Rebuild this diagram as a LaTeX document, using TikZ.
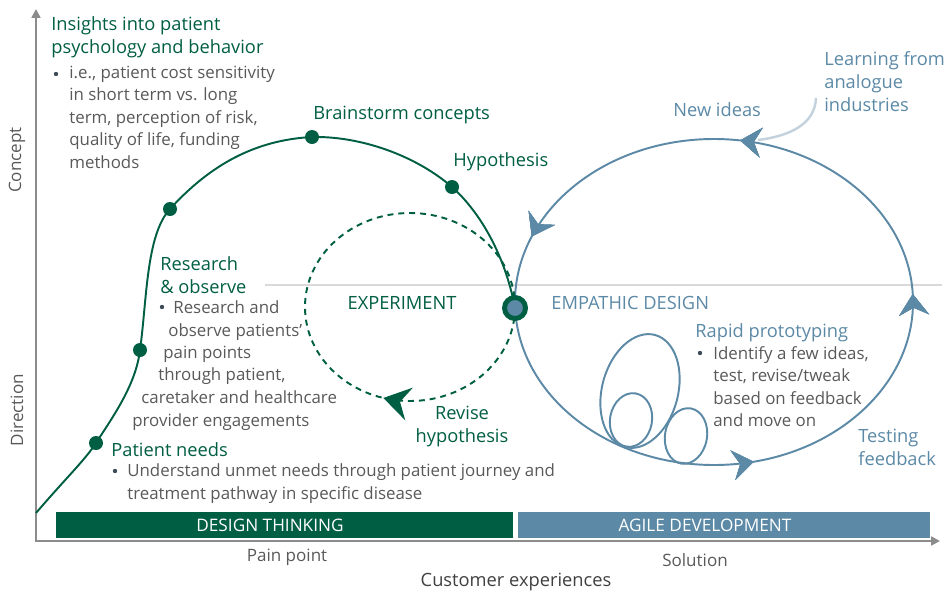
\documentclass[tikz,border=0pt]{standalone}
\usepackage{fontspec}
\setmainfont{Open Sans}
\usetikzlibrary{arrows.meta,decorations.markings}

\definecolor{dtgreen}{HTML}{005E42}
\definecolor{agblue}{HTML}{5B89A6}
\definecolor{bodygray}{HTML}{595959}
\definecolor{axisgray}{HTML}{8C8C8C}
\definecolor{rulegray}{HTML}{D9D9D9}
\definecolor{dotgray}{HTML}{3E4C5A}
\definecolor{hintblue}{HTML}{C3D2DC}
\definecolor{captiongray}{HTML}{404040}

\tikzset{
  txt/.style={inner sep=0pt, anchor=base west},
  body/.style={txt, text=bodygray, align=left, font=\fontsize{9.6}{12.75}\selectfont},
  greenlbl/.style={txt, text=dtgreen, align=left, font=\fontsize{10.4}{13}\selectfont},
  bluelbl/.style={txt, text=agblue, align=left, font=\fontsize{10.4}{13}\selectfont},
  barlbl/.style={inner sep=0pt, text=white, font=\fontsize{9.8}{11}\selectfont},
  axislbl/.style={inner sep=0pt, text=bodygray, font=\fontsize{9.7}{11}\selectfont},
  milestone/.style={fill=dtgreen},
  bulletdot/.style={fill=dotgray},
  midarrow/.style n args={3}{postaction={solid, decorate}, decoration={markings,
      mark=at position #1 with {\arrow{Stealth[length=#2,width=#3,inset=0.35*#2]}}}}
}

\begin{document}
\begin{tikzpicture}[x=0.02cm, y=-0.02cm]
  \useasboundingbox (0,0) rectangle (950,592);

  %%%%% AXES %%%%%
  \draw[rulegray, line width=1.1pt] (265,285) -- (942,285);
  \draw[axisgray, line width=1.4pt, {Triangle[length=5pt,width=5pt]}-{Triangle[length=5pt,width=5pt]}]
    (36,9) -- (36,541) -- (940,541);
  \node[axislbl, rotate=90] (concept) at (17,160) {Concept};
  \node[axislbl, rotate=90] (direction) at (17,410) {Direction};

  %%%%% BARS %%%%%
  \fill[dtgreen] (56,512) rectangle (513,538);
  \fill[agblue] (518,512) rectangle (930,538);
  \node[barlbl] (dt) at (270,525.5) {DESIGN THINKING};
  \node[barlbl] (agile) at (705,525.5) {AGILE DEVELOPMENT};
  \node[axislbl] (pain) at (287,557) {Pain point};
  \node[axislbl] (sol) at (695,560) {Solution};
  \node[axislbl, text=captiongray, font=\fontsize{10.4}{12}\selectfont] (cx) at (516,582) {Customer experiences};

  %%%%% AGILE LOOP %%%%%
  \draw[agblue, line width=1.1pt,
        midarrow={0.285}{12pt}{17pt}, midarrow={0.507}{12pt}{17pt},
        midarrow={0.727}{12pt}{17pt}, midarrow={0.94}{12pt}{17pt}]
    (515,302) arc[start angle=180, end angle=-180, x radius=199, y radius=163];
  \draw[agblue, line width=1.1pt, rotate around={-15:(640,391)}] (640,391) ellipse[x radius=38, y radius=58];
  \draw[agblue, line width=1.1pt, rotate around={-10:(631,420)}] (631,420) ellipse[x radius=21, y radius=27];
  \draw[agblue, line width=1.1pt, rotate around={-10:(686,436)}] (686,436) ellipse[x radius=21, y radius=28];
  \node[bluelbl] (learn) at (824,111) {Learning from\\analogue\\industries};
  \draw[hintblue, line width=1.4pt] (816,98) .. controls (815,124) and (790,136) .. (758,140);

  %%%%% EXPERIMENT LOOP %%%%%
  \draw[dtgreen, line width=1.1pt, dash pattern=on 3.4pt off 2.8pt, midarrow={0.293}{15pt}{19pt}]
    (410,307) ellipse[x radius=105, y radius=94];

  %%%%% DESIGN THINKING CURVE %%%%%
  \coordinate (origin) at (36,513);
  \coordinate (needs) at (96,443);
  \coordinate (observe) at (140,350);
  \coordinate (insight) at (170,209);
  \coordinate (brainstorm) at (312,137);
  \coordinate (hypo) at (452,187);
  \coordinate (pivot) at (515,308);
  \draw[dtgreen, line width=1.1pt] (origin) .. controls (66,478) and (85,460) .. (needs)
    .. controls (112,418) and (136,385) .. (observe)
    .. controls (147,300) and (146,235) .. (insight)
    .. controls (210,165) and (255,140) .. (brainstorm)
    .. controls (360,136) and (415,155) .. (hypo)
    .. controls (480,212) and (505,255) .. (pivot);
  \foreach \p in {needs,observe,insight,brainstorm,hypo}
    \fill[milestone] (\p) circle[radius=7];
  \draw[dtgreen, line width=2.8pt, fill=agblue] (pivot) circle[radius=10.5];

  %%%%% LABELS %%%%%
  \node[greenlbl] (insighthd) at (51,53) {Insights into patient\\psychology and behavior};
  \fill[bulletdot] (56,74) circle[radius=2.2];
  \node[body] (insighttx) at (69,168) {i.e., patient cost sensitivity\\in short term vs. long\\term, perception of risk,\\quality of life, funding\\methods};
  \node[greenlbl] (brainhd) at (313,119) {Brainstorm concepts};
  \node[greenlbl] (hypohd) at (453,166) {Hypothesis};
  \node[greenlbl] (obshd) at (160,293) {Research\\\& observe};
  \fill[bulletdot] (162,307) circle[radius=2.2];
  \node[body] (obs1) at (173,313) {Research and};
  \node[body] (obs2) at (168,336) {observe patients’};
  \node[body] (obs3) at (163,358) {pain points};
  \node[body] (obs4) at (158,380) {through patient,};
  \node[body] (obs5) at (141,403) {caretaker and healthcare};
  \node[body] (obs6) at (132,426) {provider engagements};
  \node[greenlbl] (needshd) at (111,456) {Patient needs};
  \fill[bulletdot] (115,471) circle[radius=2.2];
  \node[body] (needstx) at (127,499) {Understand unmet needs through patient journey and\\treatment pathway in specific disease};
  \node[greenlbl, anchor=base] (exper) at (402,309) {EXPERIMENT};
  \node[greenlbl, anchor=base, align=center] (revise) at (462,442) {Revise\\hypothesis};
  \node[bluelbl] (empath) at (551,309) {EMPATHIC DESIGN};
  \node[bluelbl] (newideas) at (673,116) {New ideas};
  \node[bluelbl] (rapid) at (695,337) {Rapid prototyping};
  \fill[bulletdot] (700,353) circle[radius=2.2];
  \node[body] (rapidtx) at (713,426.5) {Identify a few ideas,\\test, revise/tweak\\based on feedback\\and move on};
  \node[bluelbl] (testing) at (858,465) {Testing\\feedback};
\end{tikzpicture}
\end{document}
